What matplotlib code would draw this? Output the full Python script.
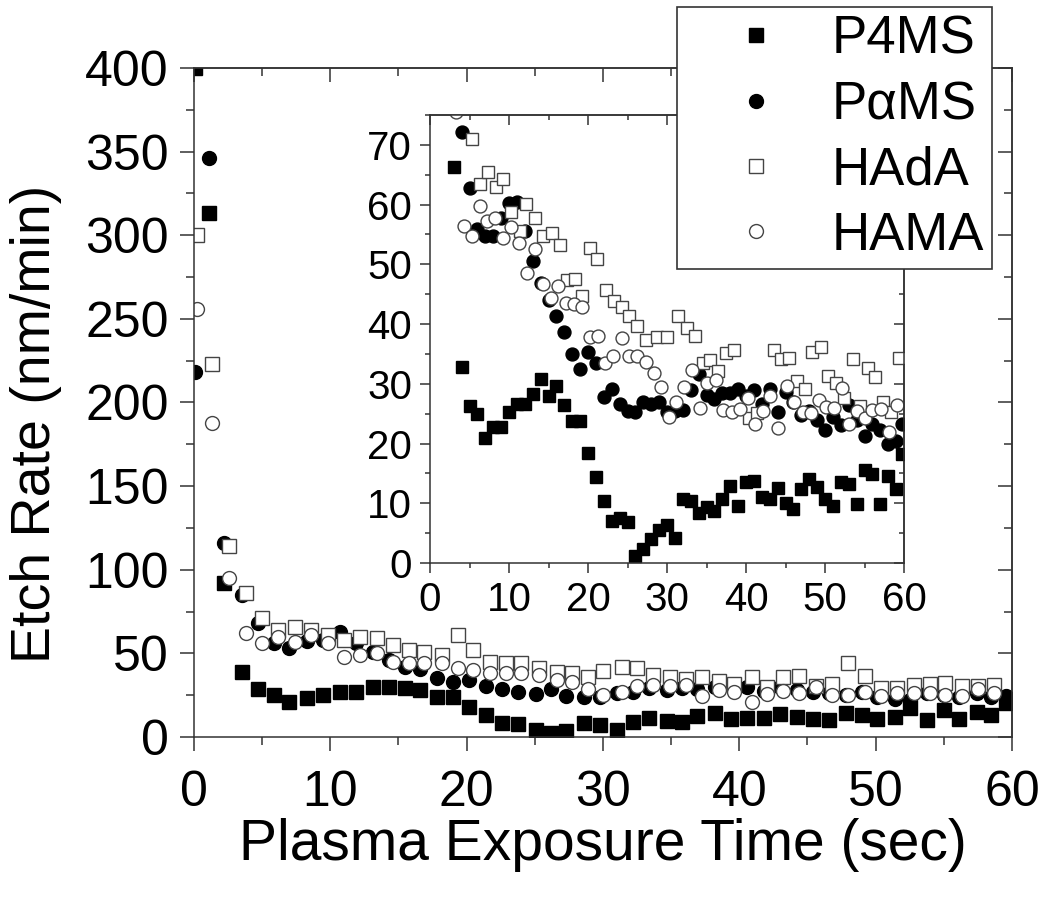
import matplotlib
matplotlib.use('Agg')
import matplotlib.pyplot as plt
from matplotlib.ticker import MultipleLocator
from matplotlib.lines import Line2D

plt.rcParams['font.family'] = ['Liberation Sans', 'DejaVu Sans']

# main plot (0-400 nm/min)
t_main_solid = [0.1, 1.1, 2.2, 3.5, 4.7, 5.9, 7.0, 8.3, 9.5, 10.7,
                11.9, 13.1, 14.3, 15.5, 16.6, 17.8, 19.0, 20.2, 21.4, 22.6,
                23.8, 25.1, 26.2, 27.3, 28.6, 29.8, 31.0, 32.2, 33.4, 34.7,
                35.8, 36.9, 38.2, 39.4, 40.6, 41.8, 43.0, 44.2, 45.4, 46.6,
                47.8, 49.0, 50.1, 51.4, 52.5, 53.8, 55.0, 56.1, 57.4, 58.5, 59.6]
p4ms_main = [400, 313, 92, 39, 28.5, 25, 21, 23.5, 25, 27,
             27, 29.7, 29.7, 29, 28, 24, 24, 17.8, 13.2, 8.2,
             7.8, 4.2, 2.2, 3.8, 8.2, 7, 4.2, 9.2, 11.2, 9.6,
             9.2, 12.6, 14.2, 10.6, 11.2, 11.2, 13.8, 11.8, 10.6, 10.2,
             14.5, 13.2, 10.6, 12.2, 17.2, 10.2, 16.1, 10.6, 15.2, 13.2, 20.5]
pams_main = [218, 346, 116, 85, 68, 56, 53, 57.4, 58, 63,
             56.4, 51, 46, 41.7, 40.5, 35, 33, 34, 30.5, 28.5,
             27, 25.7, 28.5, 24.5, 23.7, 24, 26, 27, 29, 28,
             29, 28.5, 30, 31, 29.7, 27.5, 30, 28, 27, 26,
             25, 27, 24, 23, 22, 26, 25, 24, 26, 24, 24.5]

t_main_open = [0.2, 1.3, 2.6, 3.8, 5.0, 6.2, 7.4, 8.6, 9.8, 11.0,
               12.2, 13.4, 14.6, 15.8, 16.9, 18.2, 19.4, 20.5, 21.7, 22.9,
               24.0, 25.3, 26.6, 27.7, 28.9, 30.0, 31.4, 32.5, 33.7, 34.9,
               36.1, 37.3, 38.5, 39.6, 40.9, 42.0, 43.2, 44.4, 45.6, 46.8,
               48.0, 49.2, 50.4, 51.6, 52.8, 54.0, 55.1, 56.3, 57.5, 58.7]
hada_main = [300, 223, 114, 86, 71, 64, 66, 64, 61, 58,
             60, 59, 55, 52, 51, 49, 61, 52, 45, 44,
             44, 41, 39, 38, 36, 39.5, 41.7, 41.1, 37.1, 35.7,
             34.5, 36.1, 33.7, 31.7, 36.1, 29.7, 36.1, 36.5, 30.5, 31.7,
             44.4, 36.5, 29.1, 29.5, 31.1, 31.7, 32.1, 30.5, 30.5, 31.1]
hama_main = [256, 188, 95, 62, 56, 60, 57, 61, 56, 48,
             49, 50, 45, 44, 44, 44, 41, 40, 38, 38.5,
             38.5, 37, 34, 33, 28.5, 25, 27, 30.5, 31, 30.5,
             31, 24.5, 28, 27, 21, 25.7, 27.5, 26, 29.7, 25,
             25, 27, 24.5, 26.5, 26, 26, 25, 24.5, 28.5, 26.5]

# inset (0-75 nm/min)
t_in_p4ms = list(range(3, 60)) + [59.7]
p4ms_in = [66.3, 32.8, 26.3, 24.9, 21.0, 22.7, 22.8, 25.2, 26.6, 26.6,
           28.3, 30.8, 28.0, 29.6, 26.5, 23.7, 23.8, 18.4, 14.4, 10.4,
           7.1, 7.6, 6.9, 1.2, 2.4, 4.0, 5.6, 6.4, 4.2, 10.7,
           10.4, 8.3, 9.4, 8.7, 10.7, 12.9, 9.5, 13.6, 13.8, 11.1,
           10.7, 12.6, 10.1, 9.0, 12.3, 14.1, 12.8, 10.7, 9.5, 13.6,
           13.3, 9.8, 15.6, 14.9, 9.8, 14.5, 12.4, 18.3]
t_in_pams = list(range(4, 60)) + [59.7]
pams_in = [72.2, 62.8, 55.9, 54.8, 54.8, 57.7, 60.2, 60.5, 55.5, 50.5,
           46.9, 44.1, 41.4, 38.6, 35.0, 32.4, 35.4, 33.4, 27.8, 29.1,
           26.6, 25.5, 25.2, 26.9, 26.6, 27.0, 25.2, 25.5, 25.6, 29.0,
           31.7, 28.1, 27.5, 28.5, 28.4, 29.1, 28.0, 29.0, 26.6, 29.1,
           25.3, 28.7, 27.0, 24.8, 25.5, 24.0, 22.3, 24.5, 23.1, 26.5,
           24.0, 21.3, 23.2, 22.2, 20.0, 20.4, 23.3]
t_in_hada = [5.3, 6.3, 7.4, 8.4, 9.3, 10.3, 11.4, 12.2, 13.3, 14.3,
             15.4, 16.4, 17.3, 18.3, 19.3, 20.3, 21.2, 22.3, 23.3, 24.3,
             25.2, 26.2, 27.3, 28.7, 30.0, 31.4, 32.5, 33.5, 34.5, 35.5,
             36.5, 37.5, 38.5, 40.4, 41.4, 43.5, 44.4, 45.4, 46.4, 47.5,
             48.4, 49.5, 50.4, 51.4, 52.4, 53.5, 54.4, 55.4, 56.3, 57.3,
             58.3, 59.4]
hada_in = [70.9, 63.5, 65.5, 63.0, 64.3, 58.7, 55.5, 60.1, 57.7, 54.7,
           55.3, 53.3, 47.4, 47.6, 44.7, 52.7, 50.9, 45.7, 43.8, 42.9,
           41.3, 39.6, 37.4, 37.8, 37.8, 41.4, 39.3, 38.0, 33.4, 34.0,
           32.2, 35.2, 35.6, 24.2, 25.1, 35.7, 34.1, 34.3, 30.4, 29.1,
           35.4, 36.1, 31.3, 30.2, 27.6, 34.1, 26.2, 32.6, 31.1, 27.0,
           25.3, 34.3]
t_in_hama = [3.25, 4.3, 5.3, 6.3, 7.2, 8.2, 9.3, 10.3, 11.3, 12.3,
             13.3, 14.3, 15.3, 16.2, 17.2, 18.2, 19.3, 20.3, 21.3, 22.2,
             23.2, 24.3, 25.2, 26.2, 27.3, 28.3, 29.2, 30.2, 31.1, 32.2,
             33.2, 34.2, 35.1, 36.2, 37.1, 38.2, 39.2, 40.2, 41.1, 42.1,
             43.1, 44.1, 45.2, 46.1, 47.2, 48.2, 49.2, 50.1, 51.1, 52.1,
             53.1, 54.1, 55.1, 56.0, 57.1, 58.1, 59.1]
hama_in = [75.5, 56.4, 54.8, 59.7, 57.2, 57.8, 54.4, 56.3, 53.6, 48.5,
           52.5, 46.7, 44.4, 46.3, 43.5, 43.4, 42.9, 37.9, 38.0, 33.4,
           34.7, 37.6, 34.7, 34.7, 33.6, 31.8, 29.4, 24.5, 26.9, 29.5,
           32.3, 26.0, 30.1, 30.6, 25.6, 25.3, 25.8, 27.6, 23.3, 25.5,
           28.0, 22.6, 29.6, 26.9, 25.2, 25.1, 27.2, 26.1, 25.9, 29.3,
           23.3, 25.5, 24.2, 25.6, 25.7, 22.0, 26.5]

labels = ['P4MS', 'PαMS', 'HAdA', 'HAMA']

# marker styles: filled black / open with grey edge
styles = [dict(marker='s', mfc='k', mec='k'),
          dict(marker='o', mfc='k', mec='k'),
          dict(marker='s', mfc='white', mec='#444444'),
          dict(marker='o', mfc='white', mec='#444444')]

fig = plt.figure(figsize=(10.44, 8.97), dpi=100)
ax = fig.add_axes([0.1858, 0.1784, 0.7835, 0.7458])
ins = fig.add_axes([0.4119, 0.3724, 0.4540, 0.4994])


def style_axes(a, xmaj, xmin, ymaj, ymin, fs, L, xpad, ypad):
    a.xaxis.set_major_locator(MultipleLocator(xmaj))
    a.xaxis.set_minor_locator(MultipleLocator(xmin))
    a.yaxis.set_major_locator(MultipleLocator(ymaj))
    a.yaxis.set_minor_locator(MultipleLocator(ymin))
    a.tick_params(which='both', direction='out', top=False, right=False,
                  width=1.1, color='#333333', labelsize=fs)
    a.tick_params(axis='x', which='both', pad=xpad)
    a.tick_params(axis='y', which='both', pad=ypad)
    a.tick_params(which='major', length=L)
    a.tick_params(which='minor', length=L * 0.55)
    for s in a.spines.values():
        s.set_linewidth(1.1)
        s.set_color('#333333')
    # top / right ticks point inward
    sx = a.secondary_xaxis('top')
    sx.xaxis.set_major_locator(MultipleLocator(xmaj))
    sx.xaxis.set_minor_locator(MultipleLocator(xmin))
    sx.tick_params(which='both', direction='in', labeltop=False, width=1.1,
                   color='#333333')
    sx.tick_params(which='major', length=L)
    sx.tick_params(which='minor', length=L * 0.55)
    sx.spines['top'].set_linewidth(1.1)
    sx.spines['top'].set_color('#333333')
    sy = a.secondary_yaxis('right')
    sy.yaxis.set_major_locator(MultipleLocator(ymaj))
    sy.yaxis.set_minor_locator(MultipleLocator(ymin))
    sy.tick_params(which='both', direction='in', labelright=False, width=1.1,
                   color='#333333')
    sy.tick_params(which='major', length=L)
    sy.tick_params(which='minor', length=L * 0.55)
    sy.spines['right'].set_linewidth(1.1)
    sy.spines['right'].set_color('#333333')


main_x = [t_main_solid, t_main_solid, t_main_open, t_main_open]
main_y = [p4ms_main, pams_main, hada_main, hama_main]
for xs, ys, st, lab in zip(main_x, main_y, styles, labels):
    ax.plot(xs, ys, ls='none', ms=10, mew=1.0, label=lab, **st)
ax.set_xlim(0, 60)
ax.set_ylim(0, 400)
style_axes(ax, 10, 5, 50, 25, 36, 10, 13.5, 8)
ax.set_xlabel('Plasma Exposure Time (sec)', fontsize=41, labelpad=2)
ax.set_ylabel('Etch Rate (nm/min)', fontsize=40, labelpad=17, y=0.468)

in_x = [t_in_p4ms, t_in_pams, t_in_hada, t_in_hama]
in_y = [p4ms_in, pams_in, hada_in, hama_in]
for xs, ys, st in zip(in_x, in_y, styles):
    ins.plot(xs, ys, ls='none', ms=9.3, mew=1.0, **st)
ins.set_xlim(0, 60)
ins.set_ylim(0, 75)
style_axes(ins, 10, 5, 10, 5, 29, 7, 6, 6)

handles = [Line2D([], [], ls='none', ms=10, mew=1.0, **st) for st in styles]
leg = fig.legend(handles, labels, loc='upper left',
                 bbox_to_anchor=(677 / 1044, 1 - 7 / 897), fontsize=38,
                 frameon=True, fancybox=False, edgecolor='#333333',
                 framealpha=1, borderpad=0.15, labelspacing=0.29,
                 handletextpad=0.1, handlelength=2.68, borderaxespad=0)
leg.get_frame().set_linewidth(1.2)

fig.savefig('out.png', dpi=100)
